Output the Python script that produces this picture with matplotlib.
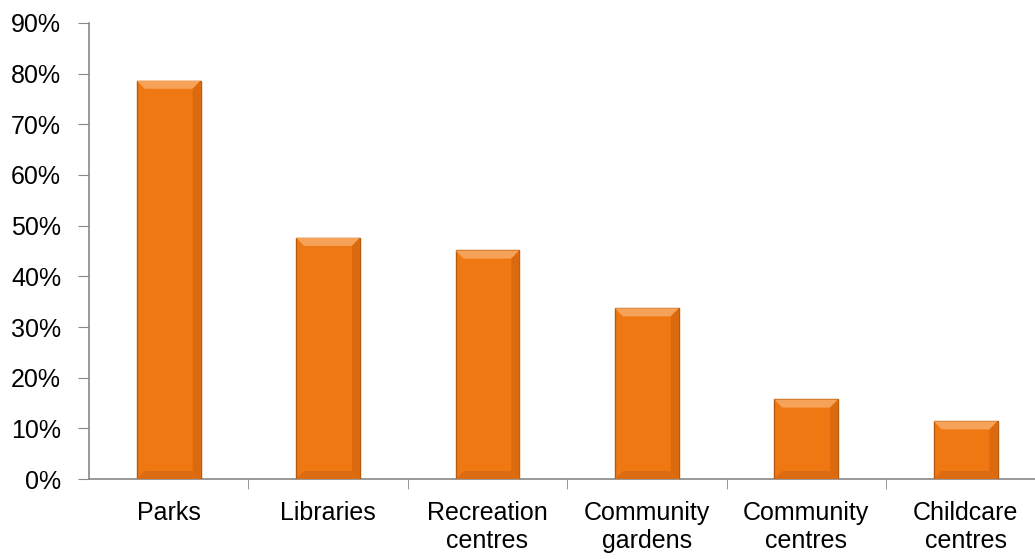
import matplotlib.pyplot as plt
from matplotlib.patches import Polygon
from matplotlib.ticker import FixedLocator

categories = ['Parks', 'Libraries', 'Recreation\ncentres', 'Community\ngardens',
              'Community\ncentres', 'Childcare\ncentres']
values = [78.6, 47.6, 45.1, 33.7, 15.7, 11.4]
yticks = [0, 10, 20, 30, 40, 50, 60, 70, 80, 90]

plt.rcParams['font.family'] = ['Liberation Sans', 'DejaVu Sans']

fig = plt.figure(figsize=(10.35, 5.59), dpi=100)
ax = fig.add_axes([0.086, 0.143, 0.924, 0.816])

x = list(range(len(categories)))
width = 0.4
bars = ax.bar(x, values, width=width, color='#EF7812', edgecolor='#B65A0E',
              linewidth=1.0, zorder=3)

# bevel look: lighter top strip, darker sides
bev_x = 0.05
bev_y = 1.6
for b in bars:
    x0, x1 = b.get_x(), b.get_x() + b.get_width()
    top = b.get_height()
    ax.add_patch(Polygon([(x0, top), (x1, top), (x1 - bev_x, top - bev_y),
                          (x0 + bev_x, top - bev_y)], closed=True,
                         facecolor='#F6A258', edgecolor='none', zorder=4))
    ax.add_patch(Polygon([(x1, top), (x1, 0), (x1 - bev_x, bev_y),
                          (x1 - bev_x, top - bev_y)], closed=True,
                         facecolor='#DB6A0E', edgecolor='none', zorder=4))
    ax.add_patch(Polygon([(x0, 0), (x1, 0), (x1 - bev_x, bev_y),
                          (x0 + bev_x, bev_y)], closed=True,
                         facecolor='#DC6C12', edgecolor='none', zorder=4))

ax.set_xlim(-0.5, len(categories) - 0.5)
ax.set_ylim(0, 90)
ax.set_yticks(yticks)
ax.set_yticklabels([f'{t}%' for t in yticks], fontsize=18)

ax.set_xticks(x)
ax.set_xticklabels(categories, fontsize=18, linespacing=1.2)
ax.tick_params(axis='x', which='major', length=0, pad=16)
ax.xaxis.set_minor_locator(FixedLocator([i + 0.5 for i in x]))
ax.tick_params(axis='x', which='minor', length=7, color='#888888', direction='out')
ax.tick_params(axis='y', length=8, color='#888888', direction='out', pad=12)

for side in ['top', 'right']:
    ax.spines[side].set_visible(False)
for side in ['left', 'bottom']:
    ax.spines[side].set_color('#888888')
    ax.spines[side].set_linewidth(1.2)

fig.savefig('out.png', dpi=100)
